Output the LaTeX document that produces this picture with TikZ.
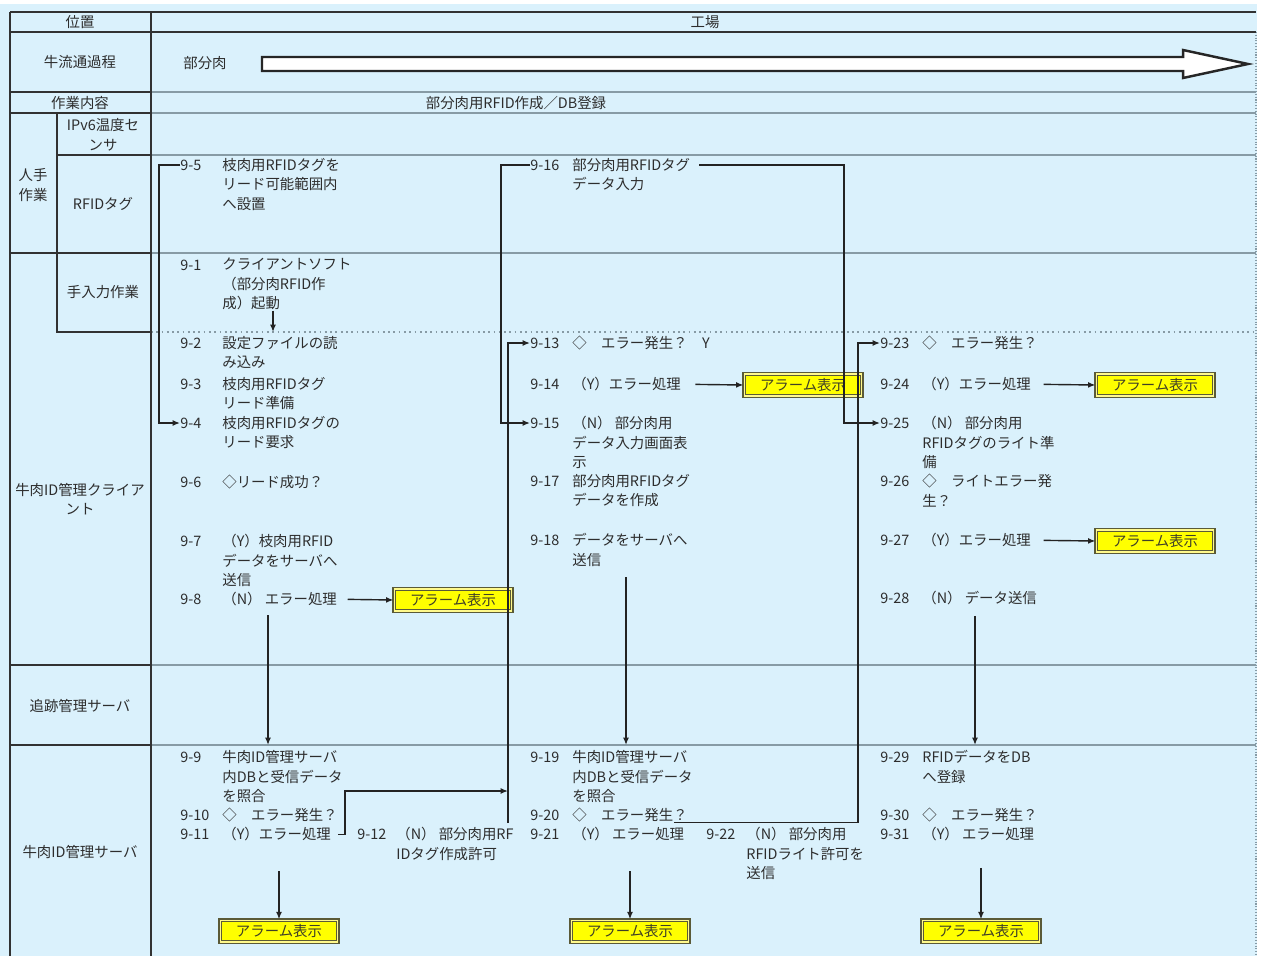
\documentclass[tikz,border=0pt]{standalone}
\usepackage{fontspec}
\setmainfont{Noto Sans CJK JP}
\usepackage{tikz}
\usetikzlibrary{arrows.meta,positioning}
\usepackage{xcolor}
\definecolor{bgblue}{RGB}{218,241,252}
\definecolor{ink}{RGB}{45,45,45}
\definecolor{rule}{RGB}{50,50,50}
\definecolor{softrule}{RGB}{135,155,165}
\definecolor{wire}{RGB}{35,35,35}
\definecolor{alarmedge}{RGB}{90,90,55}
\definecolor{alarmfill}{RGB}{255,255,0}

\begin{document}
\begin{tikzpicture}[x=0.02cm, y=-0.02cm,
      every node/.style={font=\fontsize{8.2pt}{11.1pt}\selectfont, text=ink, inner sep=0pt},
      rowlab/.style={align=center},
      num/.style={anchor=west},
      txt/.style={anchor=north west, align=left},
      alarm/.style={draw=alarmedge, double=yellow!45!white, double distance=0.6pt, line width=0.8pt,
        fill=alarmfill, minimum width=67pt, minimum height=12.5pt, text=alarmedge!70!black},
      conn/.style={draw=wire, line width=0.8pt, -{Latex[length=4.2pt,width=3.4pt]}},
      grid/.style={draw=rule, line width=1.2pt},
      soft/.style={draw=softrule, line width=1.1pt}
    ]
    \useasboundingbox (0,0) rectangle (1263,956);
    \fill[white] (0,0) rectangle (1263,956);
    \fill[bgblue] (0,4) rectangle (1257,956);

    % lane separators in the content area
    \draw[soft] (151,92) -- (1256,92);
    \draw[soft] (151,113) -- (1256,113);
    \draw[soft] (151,155) -- (1256,155);
    \draw[soft] (151,253) -- (1256,253);
    \draw[draw=softrule, dotted, line width=1pt] (151,332) -- (1256,332);
    \draw[soft] (151,665) -- (1256,665);
    \draw[soft] (151,745) -- (1256,745);
    \draw[draw=softrule, densely dotted, line width=0.6pt] (1256,32) -- (1256,956);
    % header rules and left column
    \draw[grid] (10,12) -- (1256,12);
    \draw[grid] (10,32) -- (1256,32);
    \draw[grid] (10,12) -- (10,956);
    \draw[grid, line width=1.5pt] (151,12) -- (151,956);
    \draw[grid] (10,92) -- (151,92);
    \draw[grid] (10,113) -- (151,113);
    \draw[grid] (57,155) -- (151,155);
    \draw[grid] (10,253) -- (151,253);
    \draw[grid] (57,113) -- (57,332) -- (151,332);
    \draw[grid] (10,665) -- (151,665);
    \draw[grid] (10,745) -- (151,745);

    % row labels
    \node[rowlab] (pos) at (80,22) {位置};
    \node[rowlab] (flowlab) at (80,62) {牛流通過程};
    \node[rowlab] (worklab) at (80,103) {作業内容};
    \node[rowlab] (manual) at (33,185) {人手\\作業};
    \node[rowlab] (ipv6) at (103,135) {IPv6温度セ\\ンサ};
    \node[rowlab] (rfidlab) at (103,204) {RFIDタグ};
    \node[rowlab] (handin) at (103,292) {手入力作業};
    \node[rowlab] (client) at (80,499) {牛肉ID管理クライア\\ント};
    \node[rowlab] (trace) at (80,706) {追跡管理サーバ};
    \node[rowlab] (server) at (80,852) {牛肉ID管理サーバ};

    % header contents
    \node (factory) at (705,22) {工場};
    \node (partmeat) at (205,63) {部分肉};
    \node (task) at (516,103) {部分肉用RFID作成／DB登録};
    \draw[draw=black!85, line width=1.4pt, fill=white]
      (262,57) -- (1183,57) -- (1183,50) -- (1248,64) -- (1183,78) -- (1183,71) -- (262,71) -- cycle;

    % first column of steps
    \node[num] (n5) at (180,165) {9-5};
    \node[txt] (t5) at (222,158) {枝肉用RFIDタグを\\リード可能範囲内\\へ設置};
    \node[num] (n1) at (180,265) {9-1};
    \node[txt] (t1) at (222,258) {クライアントソフト\\（部分肉RFID作\\成）起動};
    \node[num] (n2) at (180,343) {9-2};
    \node[txt] (t2) at (222,336) {設定ファイルの読\\み込み};
    \node[num] (n3) at (180,384) {9-3};
    \node[txt] (t3) at (222,377) {枝肉用RFIDタグ\\リード準備};
    \node[num] (n4) at (180,423) {9-4};
    \node[txt] (t4) at (222,416) {枝肉用RFIDタグの\\リード要求};
    \node[num] (n6) at (180,482) {9-6};
    \node[txt] (t6) at (222,475) {◇リード成功？};
    \node[num] (n7) at (180,541) {9-7};
    \node[txt] (t7) at (222,534) {（Y）枝肉用RFID\\データをサーバへ\\送信};
    \node[num] (n8) at (180,599) {9-8};
    \node[txt] (t8) at (222,592) {（N） エラー処理};
    \node[num] (n9) at (180,757) {9-9};
    \node[txt] (t9) at (222,750) {牛肉ID管理サーバ\\内DBと受信データ\\を照合};
    \node[num] (n10) at (180,815) {9-10};
    \node[txt] (t10) at (222,808) {◇　エラー発生？};
    \node[num] (n11) at (180,834) {9-11};
    \node[txt] (t11) at (222,827) {（Y）エラー処理};
    \node[num] (n12) at (357,834) {9-12};
    \node[txt] (t12) at (396,827) {（N） 部分肉用RF\\IDタグ作成許可};

    % second column of steps
    \node[num] (n16) at (530,165) {9-16};
    \node[txt] (t16) at (572,158) {部分肉用RFIDタグ\\データ入力};
    \node[num] (n13) at (530,343) {9-13};
    \node[txt] (t13) at (572,336) {◇　エラー発生？　Y};
    \node[num] (n14) at (530,384) {9-14};
    \node[txt] (t14) at (572,377) {（Y）エラー処理};
    \node[num] (n15) at (530,423) {9-15};
    \node[txt] (t15) at (572,416) {（N） 部分肉用\\データ入力画面表\\示};
    \node[num] (n17) at (530,481) {9-17};
    \node[txt] (t17) at (572,474) {部分肉用RFIDタグ\\データを作成};
    \node[num] (n18) at (530,540) {9-18};
    \node[txt] (t18) at (572,533) {データをサーバへ\\送信};
    \node[num] (n19) at (530,757) {9-19};
    \node[txt] (t19) at (572,750) {牛肉ID管理サーバ\\内DBと受信データ\\を照合};
    \node[num] (n20) at (530,815) {9-20};
    \node[txt] (t20) at (572,808) {◇　エラー発生？};
    \node[num] (n21) at (530,834) {9-21};
    \node[txt] (t21) at (572,827) {（Y） エラー処理};
    \node[num] (n22) at (706,834) {9-22};
    \node[txt] (t22) at (746,827) {（N） 部分肉用\\RFIDライト許可を\\送信};

    % third column of steps
    \node[num] (n23) at (880,343) {9-23};
    \node[txt] (t23) at (922,336) {◇　エラー発生？};
    \node[num] (n24) at (880,384) {9-24};
    \node[txt] (t24) at (922,377) {（Y）エラー処理};
    \node[num] (n25) at (880,423) {9-25};
    \node[txt] (t25) at (922,416) {（N） 部分肉用\\RFIDタグのライト準\\備};
    \node[num] (n26) at (880,481) {9-26};
    \node[txt] (t26) at (922,474) {◇　ライトエラー発\\生？};
    \node[num] (n27) at (880,540) {9-27};
    \node[txt] (t27) at (922,533) {（Y）エラー処理};
    \node[num] (n28) at (880,598) {9-28};
    \node[txt] (t28) at (922,591) {（N） データ送信};
    \node[num] (n29) at (880,757) {9-29};
    \node[txt] (t29) at (922,750) {RFIDデータをDB\\へ登録};
    \node[num] (n30) at (880,815) {9-30};
    \node[txt] (t30) at (922,808) {◇　エラー発生？};
    \node[num] (n31) at (880,834) {9-31};
    \node[txt] (t31) at (922,827) {（Y） エラー処理};

    % alarms
    \node[alarm] (a8) at (453,600) {アラーム表示};
    \node[alarm] (a14) at (803,385) {アラーム表示};
    \node[alarm] (a24) at (1155,385) {アラーム表示};
    \node[alarm] (a27) at (1155,541) {アラーム表示};
    \node[alarm] (a11) at (279,931) {アラーム表示};
    \node[alarm] (a21) at (630,931) {アラーム表示};
    \node[alarm] (a31) at (981,931) {アラーム表示};

    % routing points
    \coordinate (lane1) at (159,0);
    \coordinate (lane2) at (501,0);
    \coordinate (lane3) at (844,0);
    \coordinate (lane4) at (508,823);
    \coordinate (lane5) at (858,0);
    \coordinate (bend11) at (345,791);
    \coordinate (drop1) at (273,332);
    \coordinate (drop8) at (268,745);
    \coordinate (drop18) at (626,745);
    \coordinate (drop28) at (975,745);

    % connectors
    \draw[conn] (n5.west) -| (lane1 |- n4.west) -- (n4.west);
    \draw[conn] (n16.west) -| (lane2 |- n15.west) -- (n15.west);
    \draw[conn, shorten <=5pt] (n16.west -| t16.east) -| (lane3 |- n25.west) -- (n25.west);
    \draw[conn, shorten <=4pt] (t11.east) -| (bend11) -- (bend11 -| lane4);
    \draw[conn] (lane4) |- (n13.west);
    \draw[conn, shorten <=-8pt] (t20.south east) -| (lane5 |- n23.west) -- (n23.west);
    \draw[conn] (drop1 |- t1.south) -- (drop1);
    \draw[conn, shorten <=6pt] (t8.east) -- (a8.west);
    \draw[conn, shorten <=5pt] (drop8 |- t8.south) -- (drop8);
    \draw[conn, shorten <=6pt] (drop18 |- t18.south) -- (drop18);
    \draw[conn, shorten <=6pt] (drop28 |- t28.south) -- (drop28);
    \draw[conn, shorten <=8pt] (t14.east) -- (a14.west);
    \draw[conn, shorten <=7pt] (t24.east) -- (a24.west);
    \draw[conn, shorten <=7pt] (t27.east) -- (a27.west);
    \draw[conn, shorten <=17pt] (a11.north |- t11.south) -- (a11.north);
    \draw[conn, shorten <=17pt] (a21.north |- t21.south) -- (a21.north);
    \draw[conn, shorten <=15pt] (a31.north |- t31.south) -- (a31.north);
  \end{tikzpicture}
\end{document}
